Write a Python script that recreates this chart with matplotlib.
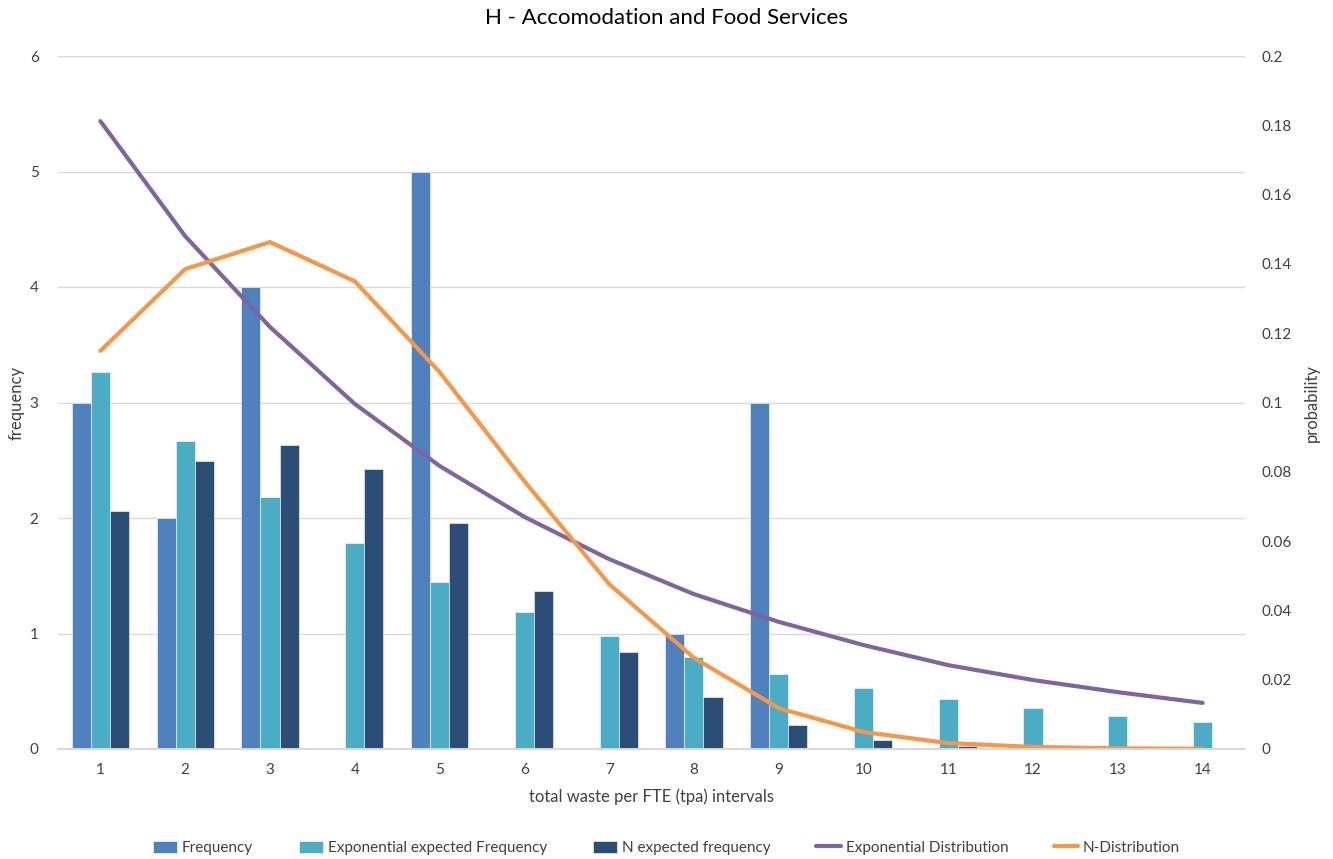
import matplotlib
matplotlib.use("Agg")
import matplotlib.pyplot as plt
import numpy as np
from matplotlib.ticker import FixedLocator, FuncFormatter

plt.rcParams['font.family'] = ['Lato', 'DejaVu Sans']

categories = [str(i) for i in range(1, 15)]
frequency = [3, 2, 4, 0, 5, 0, 0, 1, 3, 0, 0, 0, 0, 0]
exp_expected = [3.26, 2.67, 2.18, 1.78, 1.45, 1.19, 0.976, 0.797, 0.65, 0.53, 0.433, 0.352, 0.286, 0.234]
n_expected = [2.06, 2.49, 2.63, 2.42, 1.96, 1.37, 0.84, 0.45, 0.208, 0.08, 0.026, 0.01, 0.003, 0.001]
exp_dist = [0.1812, 0.1480, 0.1218, 0.0996, 0.0817, 0.0670, 0.0548, 0.0447, 0.0367, 0.0300, 0.0242, 0.0199, 0.0164, 0.0133]
n_dist = [0.1149, 0.1385, 0.1463, 0.1350, 0.1088, 0.0773, 0.0476, 0.0263, 0.0118, 0.0049, 0.0017, 0.0006, 0.0002, 0.00005]
left_ticks = [0, 1, 2, 3, 4, 5, 6]
right_ticks = [0, 0.02, 0.04, 0.06, 0.08, 0.1, 0.12, 0.14, 0.16, 0.18, 0.2]

c_freq = '#4F81BD'
c_exp = '#4BACC6'
c_n = '#2C4D75'
c_expd = '#8064A2'
c_nd = '#F79646'
txt = '#404040'

W, H = 1333, 859
fig = plt.figure(figsize=(W/100, H/100), dpi=100)
x0, x1, y0, y1 = 58, 1245, 749, 56
ax = fig.add_axes([x0/W, 1-y0/H, (x1-x0)/W, (y0-y1)/H])
ax2 = ax.twinx()

x = np.arange(1, len(categories) + 1)
w = 0.225
b1 = ax.bar(x - w, frequency, w, color=c_freq, edgecolor='white', linewidth=0.4, label='Frequency', zorder=2)
b2 = ax.bar(x, exp_expected, w, color=c_exp, edgecolor='white', linewidth=0.4, label='Exponential expected Frequency', zorder=2)
b3 = ax.bar(x + w, n_expected, w, color=c_n, edgecolor='white', linewidth=0.4, label='N expected frequency', zorder=2)

l1, = ax2.plot(x, exp_dist, color=c_expd, lw=3, solid_capstyle='round', label='Exponential Distribution')
l2, = ax2.plot(x, n_dist, color=c_nd, lw=3, solid_capstyle='round', label='N-Distribution')

ax.set_xlim(0.5, 14.5)
ax.set_ylim(0, 6)
ax2.set_ylim(0, 0.2)
ax.set_xticks(x)
ax.set_xticklabels(categories)
ax.yaxis.set_major_locator(FixedLocator(left_ticks))
ax2.yaxis.set_major_locator(FixedLocator(right_ticks))
ax2.yaxis.set_major_formatter(FuncFormatter(lambda v, p: ('%g' % round(v, 4))))

ax.grid(axis='y', color='#D9D9D9', lw=1, zorder=0)
ax.set_axisbelow(True)
for a in (ax, ax2):
    for s in ('top', 'left', 'right'):
        a.spines[s].set_visible(False)
    a.spines['bottom'].set_color('#D9D9D9')
    a.spines['bottom'].set_linewidth(1.2)
    a.tick_params(length=0, labelsize=11, colors=txt)
ax.tick_params(axis='y', pad=14)
ax2.tick_params(axis='y', pad=12)
ax.tick_params(axis='x', pad=10)

ax.set_ylabel('frequency', fontsize=12, color=txt)
ax.yaxis.set_label_coords((25 - x0) / (x1 - x0), 0.5)
ax2.set_ylabel('probability', fontsize=12, color=txt)
ax2.yaxis.set_label_coords((1304 - x0) / (x1 - x0), 0.5)
ax.set_xlabel('total waste per FTE (tpa) intervals', fontsize=12, color=txt, labelpad=8)
fig.text(0.5, 1-18/H, 'H - Accomodation and Food Services', ha='center', va='center', fontsize=16, color='#000000')

handles = [b1, b2, b3, l1, l2]
labels = [h.get_label() for h in handles]
fig.legend(handles, labels, loc='center', bbox_to_anchor=(0.5, 1-848/H), ncol=5, frameon=False,
           fontsize=11, handlelength=1.6, handleheight=0.8, handletextpad=0.3, columnspacing=3.0, labelcolor=txt)

fig.savefig('out.png', dpi=100, facecolor='white')
